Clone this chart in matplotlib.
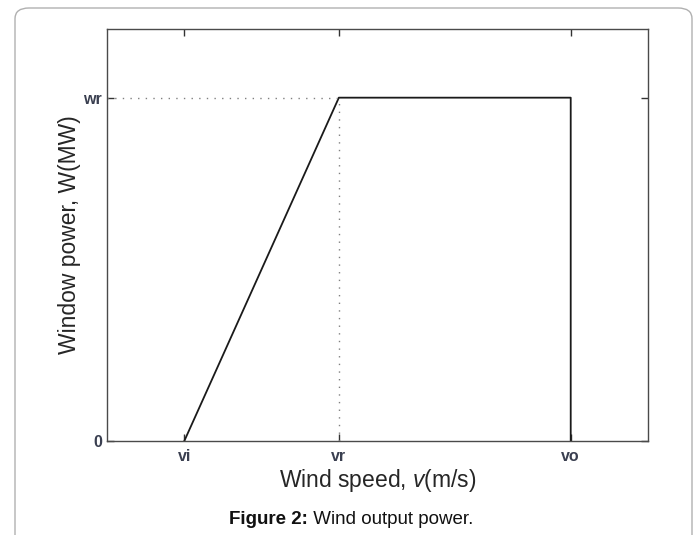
import matplotlib
matplotlib.use("Agg")
import matplotlib.pyplot as plt
from matplotlib.patches import FancyBboxPatch

plt.rcParams.update({"font.family": ["Liberation Sans", "DejaVu Sans"],
                     "mathtext.fontset": "custom",
                     "mathtext.rm": "Liberation Sans",
                     "mathtext.it": "Liberation Sans:italic"})

# power curve: cut-in, rated, cut-out speeds and rated power
curve_speed = [5, 15, 30, 30]
curve_power = [0, 1, 1, 0]
v_rated = 15
w_rated = 1

x_ticks = [5, 15, 30]
x_tick_labels = ["vi", "vr", "vo"]
y_ticks = [0, 1]
y_tick_labels = ["0", "wr"]

fig = plt.figure(figsize=(6.97, 5.35), dpi=100)

# rounded frame around the figure panel
frame = FancyBboxPatch((15 / 697, -0.05), 677 / 697, 1 - 8 / 535 + 0.05,
                       boxstyle="round,pad=0,rounding_size=0.02",
                       transform=fig.transFigure, facecolor="none",
                       edgecolor="#b0b0b0", linewidth=1.0)
fig.patches.append(frame)

ax = fig.add_axes([107 / 697, 1 - 441 / 535, 541 / 697, 412 / 535])
ax.plot(curve_speed, curve_power, color="#1a1a1a", linewidth=1.3)
ax.plot([0, v_rated], [w_rated, w_rated], color="#808080", linestyle=(0, (1, 4.5)), linewidth=1.0)
ax.plot([v_rated, v_rated], [0, w_rated], color="#808080", linestyle=(0, (1, 4.5)), linewidth=1.0)

ax.set_xlim(0, 35)
ax.set_ylim(0, 1.2)
ax.set_xticks(x_ticks)
ax.set_xticklabels(x_tick_labels)
ax.set_yticks(y_ticks)
ax.set_yticklabels(y_tick_labels)
ax.tick_params(direction="in", length=5, width=1, color="#333333",
               top=True, right=True, labelsize=11.5, labelcolor="#3a3f50")
ax.tick_params(axis="x", pad=6)
for lbl in ax.get_xticklabels() + ax.get_yticklabels():
    lbl.set_fontweight("bold")
for sp in ax.spines.values():
    sp.set_color("#4a4a4a")
    sp.set_linewidth(1.0)

ax.set_xlabel("Wind speed, $\\mathit{v}$(m/s)", fontsize=16.5, color="#262626", labelpad=2)
ax.set_ylabel("Window power, W(MW)", fontsize=16.5, color="#262626", labelpad=2)

fig.text(308 / 697, 1 - 520 / 535, "Figure 2:", fontsize=13.5, fontweight="bold",
         ha="right", va="center", color="#111111")
fig.text(308 / 697, 1 - 520 / 535, " Wind output power.", fontsize=13.5,
         ha="left", va="center", color="#111111")

fig.savefig("out.png", dpi=100)
